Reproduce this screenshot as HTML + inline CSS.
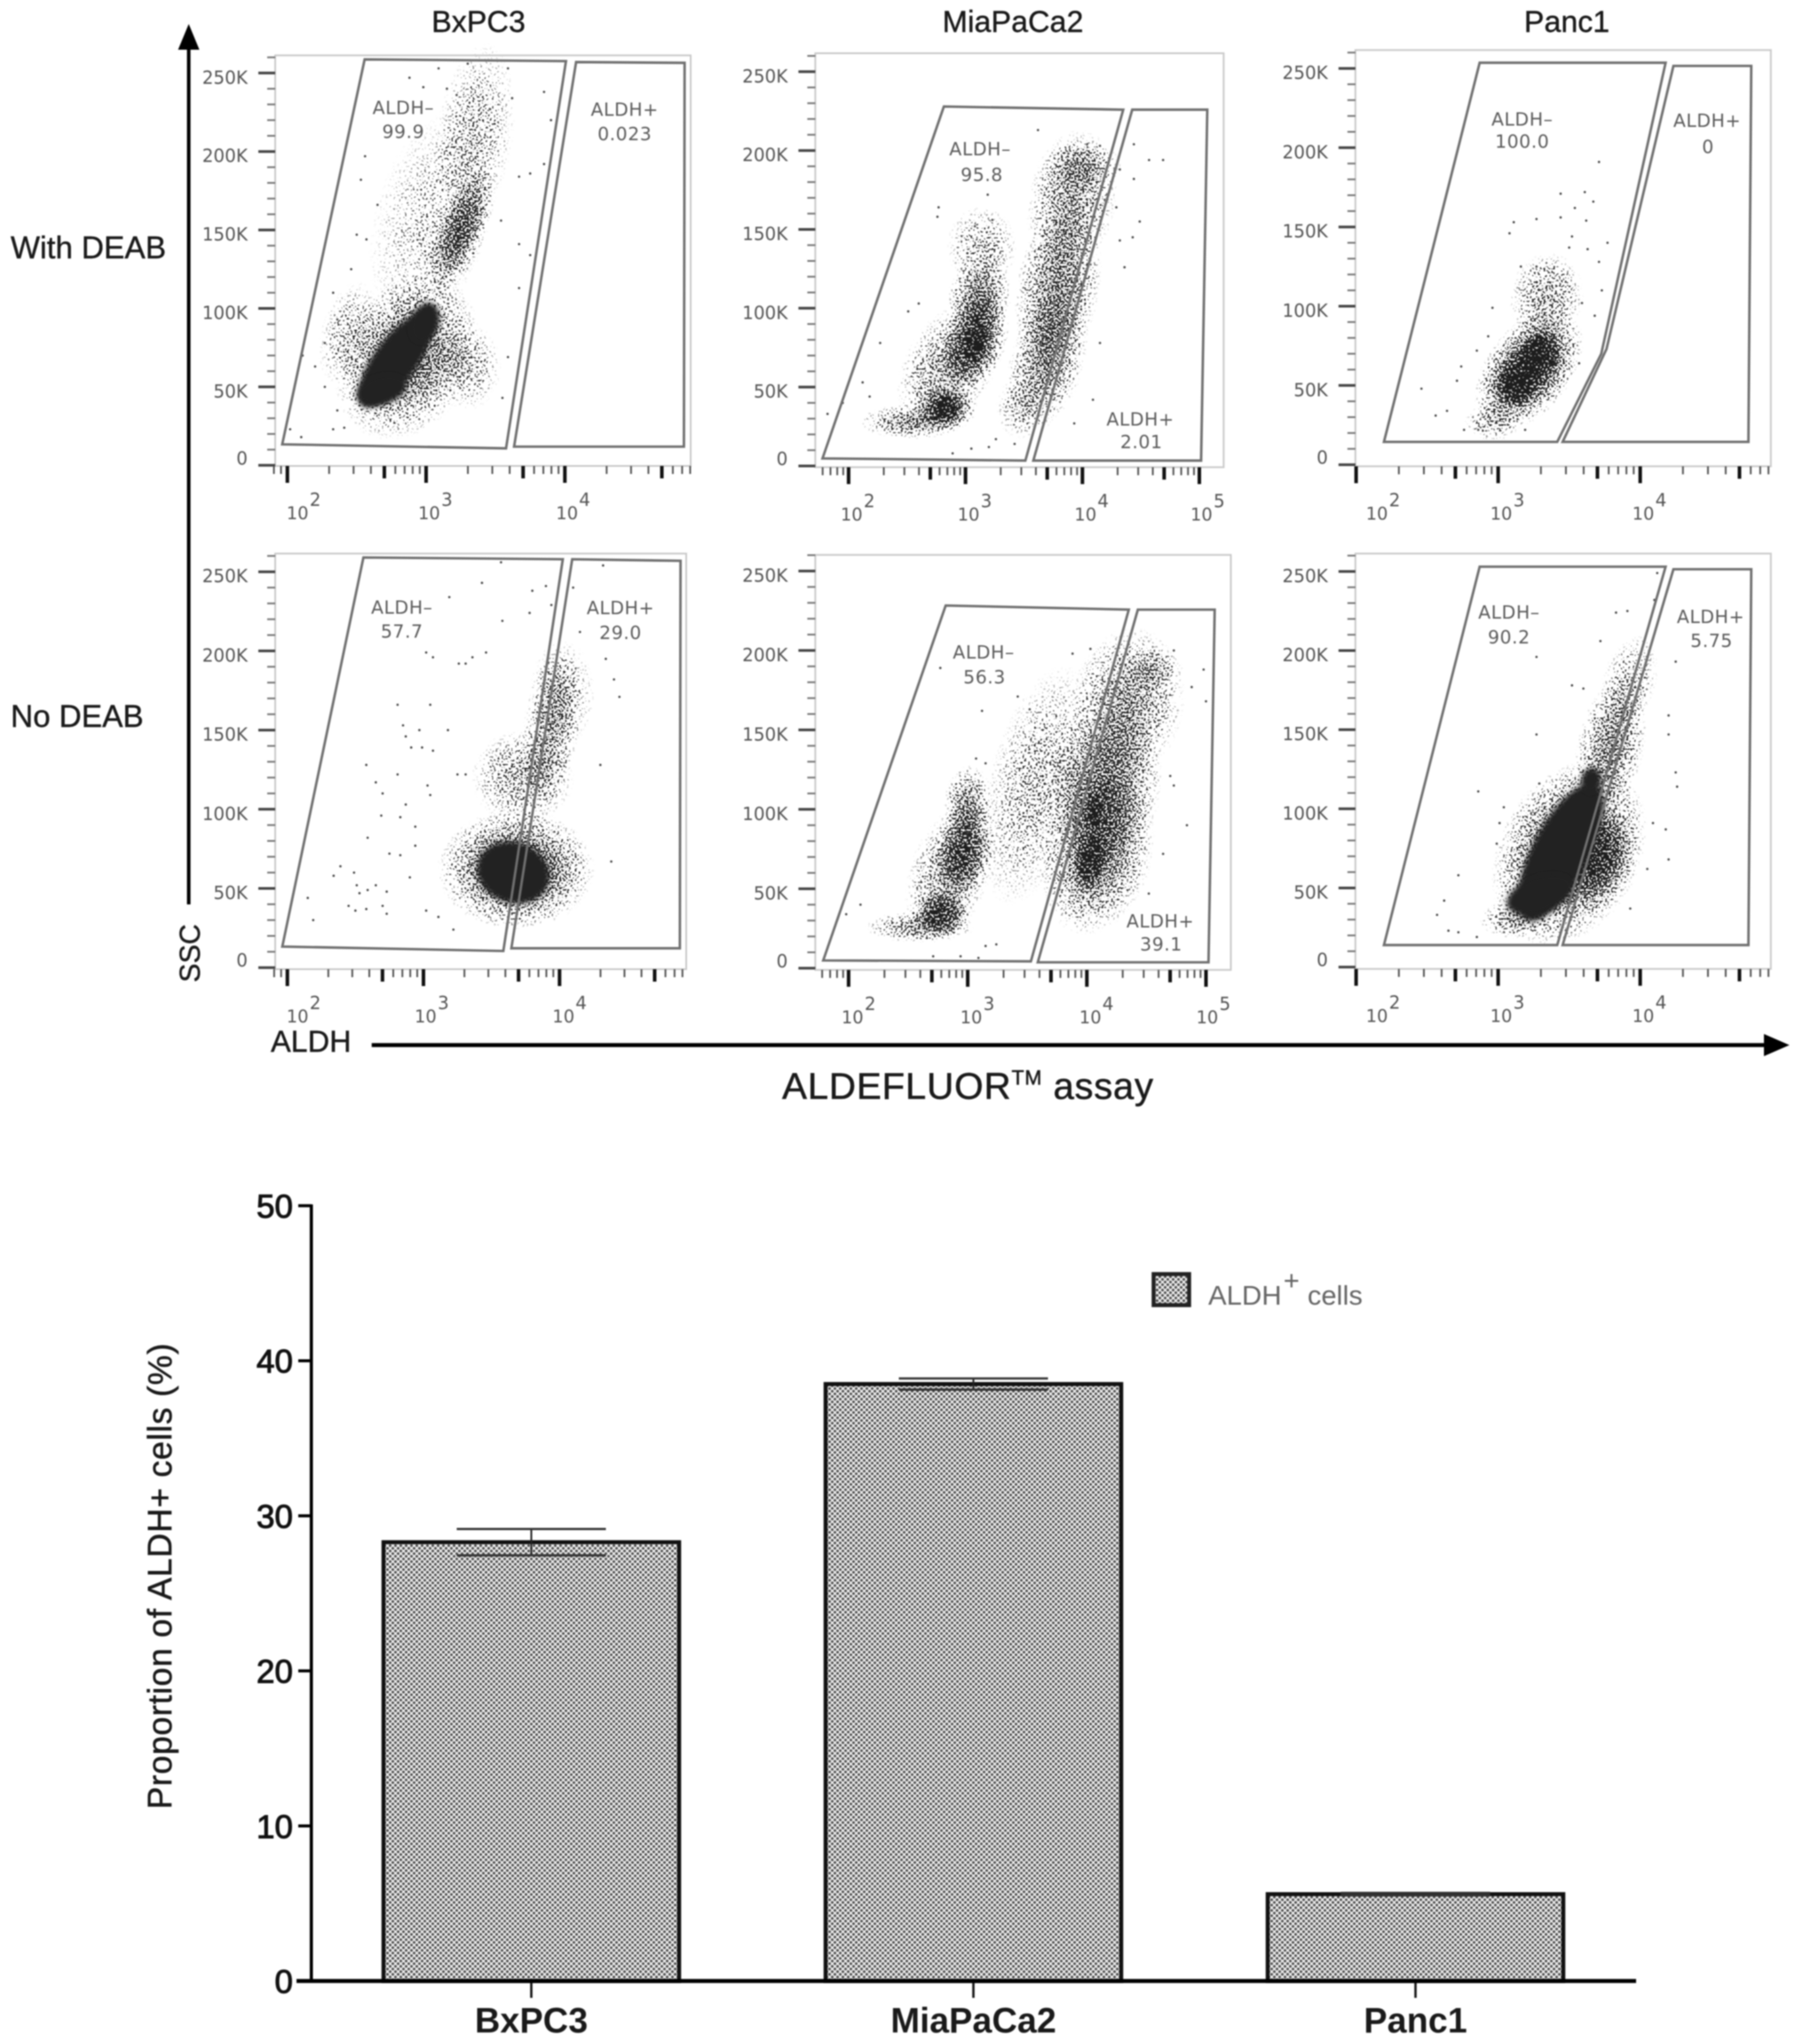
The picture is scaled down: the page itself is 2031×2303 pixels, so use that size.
<!DOCTYPE html>
<html lang="en">
<head>
<meta charset="utf-8">
<title>ALDEFLUOR assay flow cytometry and ALDH+ proportion</title>
<style>
html,body{margin:0;padding:0;background:#fff}
svg{display:block;filter:blur(.7px)}
.sans{font-family:"Liberation Sans",sans-serif}
.facs{font-family:"DejaVu Sans","Liberation Sans",sans-serif}
.gate-label{font-family:"DejaVu Sans","Liberation Sans",sans-serif;font-size:20.5px;fill:#5c5c5c;text-anchor:middle;letter-spacing:.5px}
.panel-title{font-family:"Liberation Sans",sans-serif;font-size:34px;fill:#1a1a1a;text-anchor:middle;stroke:#1a1a1a;stroke-width:.4px}
.row-label{font-family:"Liberation Sans",sans-serif;font-size:35px;fill:#1a1a1a;stroke:#1a1a1a;stroke-width:.4px}
</style>
</head>
<body>
<svg id="figure" xmlns="http://www.w3.org/2000/svg" width="2031" height="2303" viewBox="0 0 2031 2303">
  <defs>
    <pattern id="barHatch" width="6" height="6" patternUnits="userSpaceOnUse">
      <rect width="6" height="6" fill="#ececec"/>
      <circle cx="1.5" cy="1.5" r="1.5" fill="#4a4a4a"/>
      <circle cx="4.5" cy="4.5" r="1.5" fill="#4a4a4a"/>
    </pattern>
    <radialGradient id="cloudFade">
      <stop offset="0" stop-color="#000" stop-opacity=".9"/>
      <stop offset=".45" stop-color="#000" stop-opacity=".62"/>
      <stop offset=".8" stop-color="#000" stop-opacity=".22"/>
      <stop offset="1" stop-color="#000" stop-opacity="0"/>
    </radialGradient>
    <filter id="stipple" filterUnits="userSpaceOnUse" x="0" y="0" width="2031" height="1200" color-interpolation-filters="sRGB">
      <feTurbulence type="fractalNoise" baseFrequency="0.46" numOctaves="1" seed="7" result="noise"/>
      <feColorMatrix in="noise" type="matrix" values="0 0 0 0 0  0 0 0 0 0  0 0 0 0 0  2.6 0 0 0 -0.72" result="grain"/>
      <feComposite in="SourceAlpha" in2="grain" operator="arithmetic" k1="0" k2="1" k3="1" k4="-1" result="mixed"/>
      <feComponentTransfer in="mixed" result="hard"><feFuncA type="linear" slope="6" intercept="0"/></feComponentTransfer>
      <feFlood flood-color="#1d1d1d" result="ink"/>
      <feComposite in="ink" in2="hard" operator="in"/>
    </filter>
    <filter id="coreSoft" x="-25%" y="-25%" width="150%" height="150%"><feGaussianBlur stdDeviation="3"/></filter>
  </defs>

  <text class="panel-title" x="539" y="36">BxPC3</text>
  <text class="panel-title" x="1141" y="36">MiaPaCa2</text>
  <text class="panel-title" x="1765" y="36">Panc1</text>
  <text class="row-label" x="12" y="291">With DEAB</text>
  <text class="row-label" x="12" y="819">No DEAB</text>

  <g>
    <line x1="212.6" y1="50" x2="212.6" y2="1019" stroke="#000" stroke-width="4"/>
    <polygon points="212.6,27 200.6,56 224.6,56" fill="#000"/>
  </g>
  <text class="sans" transform="translate(225,1074) rotate(-90)" font-size="32" fill="#1a1a1a" text-anchor="middle" stroke="#1a1a1a" stroke-width=".4">SSC</text>
  <text class="sans" x="305" y="1185" font-size="34" fill="#1a1a1a" stroke="#1a1a1a" stroke-width=".4">ALDH</text>
  <g>
    <line x1="418.7" y1="1177.5" x2="1990" y2="1177.5" stroke="#000" stroke-width="4.5"/>
    <polygon points="2015.7,1177.5 1987,1165 1987,1190" fill="#000"/>
  </g>
  <text class="sans" x="881" y="1238" font-size="42" fill="#1a1a1a" stroke="#1a1a1a" stroke-width=".5" textLength="418">ALDEFLUOR<tspan font-size="23" dy="-16">TM</tspan><tspan dy="16"> assay</tspan></text>

  <g id="facsPanels"></g>

  <g>
    <text class="gate-label" x="454.3" y="128.7">ALDH–</text>
    <text class="gate-label" x="454.3" y="155.5">99.9</text>
    <text class="gate-label" x="703.7" y="130.6">ALDH+</text>
    <text class="gate-label" x="703.7" y="158.2">0.023</text>
    <text class="gate-label" x="1104" y="175.2">ALDH–</text>
    <text class="gate-label" x="1106" y="203.8">95.8</text>
    <text class="gate-label" x="1284.5" y="479.5">ALDH+</text>
    <text class="gate-label" x="1285.7" y="504.9">2.01</text>
    <text class="gate-label" x="1714.7" y="141.3">ALDH–</text>
    <text class="gate-label" x="1714.7" y="166.3">100.0</text>
    <text class="gate-label" x="1923" y="143">ALDH+</text>
    <text class="gate-label" x="1924" y="172.7">0</text>
    <text class="gate-label" x="452.7" y="691.5">ALDH–</text>
    <text class="gate-label" x="452.7" y="718.7">57.7</text>
    <text class="gate-label" x="699" y="692">ALDH+</text>
    <text class="gate-label" x="699" y="720">29.0</text>
    <text class="gate-label" x="1108" y="742">ALDH–</text>
    <text class="gate-label" x="1109" y="770">56.3</text>
    <text class="gate-label" x="1307" y="1045">ALDH+</text>
    <text class="gate-label" x="1308" y="1071">39.1</text>
    <text class="gate-label" x="1699.8" y="697">ALDH–</text>
    <text class="gate-label" x="1699.8" y="725">90.2</text>
    <text class="gate-label" x="1927" y="702">ALDH+</text>
    <text class="gate-label" x="1928" y="729">5.75</text>
  </g>

  <g id="barChart"></g>
  <text class="sans" transform="translate(193,1776) rotate(-90)" font-size="38" fill="#1a1a1a" stroke="#1a1a1a" stroke-width=".5" text-anchor="middle" textLength="525">Proportion of ALDH+ cells (%)</text>

  <g>
    <rect x="1299.5" y="1435.5" width="40" height="35" fill="url(#barHatch)" stroke="#222" stroke-width="4.5"/>
    <text class="sans" x="1361" y="1470" font-size="31" fill="#666">ALDH<tspan font-size="31" dy="-17" dx="2">+</tspan><tspan dy="17" dx="9">cells</tspan></text>
  </g>
</svg>

<script>
/* ---------- bar chart data ---------- */
const barCategories = ['BxPC3', 'MiaPaCa2', 'Panc1'];
const barMeans = [28.3, 38.5, 5.6];
const barErrors = [0.85, 0.36, 0.08];
const barTickValues = [0, 10, 20, 30, 40, 50];

/* ---------- flow cytometry axis data ---------- */
const sscTickValues = [0, 50, 100, 150, 200, 250];
const sscTickLabels = ['0', '50K', '100K', '150K', '200K', '250K'];
const aldhDecadesShort = [2, 3, 4];
const aldhDecadesLong = [2, 3, 4, 5];

/* ---------- gates: [log10 ALDH, SSC in thousands] ---------- */
const gateNegBxpcDeab = [[2.557,258.7],[4.008,257.6],[3.576,10.8],[1.963,13.4]];
const gatePosBxpcDeab = [[4.081,257],[4.863,256.5],[4.858,11.9],[3.634,11.9]];
const gateNegMiaDeab = [[2.815,227.9],[4.349,225.9],[3.512,3.4],[1.777,4.8]];
const gatePosMiaDeab = [[4.426,225.9],[5.068,225.9],[5.015,3.4],[3.58,3.4]];
const gateNegPancDeab = [[2.87,253.6],[4.179,253.6],[3.726,70],[3.416,14.4],[2.196,14.4]];
const gatePosPancDeab = [[4.234,251.6],[4.782,251.6],[4.762,14.4],[3.454,14.4],[3.763,73]];
const gateNegBxpcNone = [[2.559,259],[4.024,257.9],[3.587,10.5],[1.963,13.3]];
const gatePosBxpcNone = [[4.093,257.9],[4.889,256.9],[4.884,12.2],[3.646,12.2]];
const gateNegMiaNone = [[2.815,228.3],[4.352,225.7],[3.53,4.3],[1.787,4.9]];
const gatePosMiaNone = [[4.428,225.7],[5.073,225.7],[5.021,3.7],[3.588,3.7]];
const gateNegPancNone = [[2.87,253],[4.179,253],[3.416,13.9],[2.196,13.9]];
const gatePosPancNone = [[4.234,251.4],[4.782,251.4],[4.762,13.9],[3.454,13.9]];

/* ---------- density clusters: [log10 ALDH, SSC K, half-width decades, half-height K, tilt deg, density] ---------- */
const cloudsBxpcDeab = [[2.86,69,.48,56,30,.72],[3.3,63,.24,28,0,.33],[2.44,84,.2,34,15,.3],[3.25,149,.18,44,22,.72],[3.35,210,.28,60,8,.32],[3.04,156,.42,72,15,.22]];
const coresBxpcDeab = [[2.78,67,.155,36,36],[2.68,48,.18,9,-15],[2.99,91,.1,13,20]];
const cloudsMiaDeab = [[2.55,28,.46,11,0,.55],[2.83,37,.27,15,0,.8],[3.08,79,.27,32,20,.8],[3.12,107,.27,26,10,.65],[2.86,63,.38,46,30,.48],[3.14,139,.3,26,0,.34],[3.7,67,.32,46,15,.58],[3.79,113,.36,54,10,.6],[3.91,168,.38,46,10,.5],[4.0,190,.34,17,0,.38],[3.48,37,.22,20,0,.3],[3.09,77,.1,15,15,.9],[2.83,36,.13,9,0,.9]];
const coresMiaDeab = [];
const cloudsPancDeab = [[3.215,60,.3,44,38,1],[3.29,70,.15,16,20,.95],[3.14,52,.16,18,30,.95],[3.34,106,.26,28,10,.45],[2.96,27,.2,12,0,.36]];
const coresPancDeab = [];
const cloudsBxpcNone = [[3.68,62,.58,38,0,.85],[3.94,152,.21,50,8,.46],[4.02,173,.24,34,0,.26],[3.73,120,.38,30,0,.42]];
const coresBxpcNone = [[3.66,60,.27,19,20]];
const cloudsMiaNone = [[2.6,26,.46,10,0,.5],[2.78,35,.25,15,0,.85],[2.97,74,.25,32,12,.72],[3.0,104,.2,24,5,.55],[2.85,60,.34,46,20,.45],[4.09,72,.46,52,15,.68],[4.15,115,.48,52,10,.68],[4.34,167,.48,48,10,.52],[3.58,115,.42,78,15,.34],[4.55,188,.26,14,0,.28],[4.06,98,.08,14,0,.9],[4.03,68,.15,22,10,.8]];
const coresMiaNone = [];
const cloudsPancNone = [[3.5,72,.5,62,28,.88],[3.74,68,.22,32,20,.6],[3.79,139,.24,44,12,.58],[3.92,179,.19,32,15,.34],[3.11,30,.24,12,0,.45]];
const coresPancNone = [[3.44,72.5,.2,48,27],[3.29,46,.24,11,-20],[3.655,118,.07,8,10]];

/* ---------- individually read outlying events: [log10 ALDH, SSC K] ---------- */
const eventsBxpcDeab = [[3.09,253],[2.88,247],[3.59,253],[3.85,238],[3.46,227],[3.62,234],[3.9,220],[3.85,192],[3.75,186],[3.67,184],[2.56,197],[2.53,182],[2.65,166],[2.5,147],[2.57,144],[2.46,125],[2.33,110],[2.36,93],[2.27,78],[2.11,70],[2.2,63],[2.27,50],[2.36,35],[2.33,23],[2.41,24],[2.1,18],[2.02,23],[3.54,156],[3.75,134],[3.67,113],[3.67,141],[3.59,69],[3.55,43],[2.98,241],[3.15,240],[3.22,236],[3.3,256]];
const eventsMiaDeab = [[2.77,164],[2.76,158],[2.27,78],[2.51,98],[2.6,103],[1.95,40],[1.82,33],[2.12,53],[2.18,44],[4.69,194],[4.57,194],[4.44,204],[4.36,126],[4.43,145],[4.49,155],[4.15,78],[4.09,42],[3.93,27],[3.05,11],[3.2,12],[3.42,14],[2.89,8],[3.26,17],[3.19,172],[3.23,156],[3.08,152],[4.04,204],[4.15,203],[3.88,198],[3.62,213],[4.32,143],[4.29,164],[4.44,182],[4.32,188]];
const eventsPancDeab = [[3.71,191],[3.44,171],[3.61,172],[3.67,166],[3.54,162],[3.11,153],[3.08,146],[3.27,155],[3.44,156],[3.62,154],[3.77,140],[3.5,137],[3.16,125],[3.27,125],[3.52,144],[3.63,136],[3.71,128],[3.73,110],[3.68,94],[3.59,102],[2.96,99],[2.93,81],[2.85,72],[2.74,62],[2.71,53],[2.46,48],[2.64,34],[2.56,31],[2.76,22],[2.86,22],[3.19,22],[3.57,64]];
const eventsBxpcNone = [[3.19,234],[3.43,243],[3.57,256],[3.9,241],[4.32,254],[3.8,238],[3.78,224],[3.58,219],[3.02,199],[3.07,196],[3.26,192],[3.31,192],[3.36,196],[3.46,199],[4.34,195],[4.4,182],[4.44,171],[2.81,166],[3.05,166],[2.85,153],[2.87,146],[2.97,150],[2.91,139],[2.99,139],[3.07,137],[3.18,150],[2.58,128],[2.81,122],[3.25,122],[3.31,122],[2.65,117],[3.03,115],[2.7,110],[3.05,109],[2.87,103],[2.83,95],[2.69,96],[2.94,89],[2.59,82],[2.94,77],[2.75,72],[2.83,71],[2.34,58],[2.49,60],[2.39,64],[2.9,57],[2.15,44],[2.51,52],[2.53,47],[2.59,49],[2.65,52],[2.73,48],[2.45,39],[2.5,36],[2.58,37],[2.7,39],[2.73,34],[2.19,30],[3.02,36],[3.22,24],[3.11,32],[4.38,67],[4.3,128],[4.15,212],[4.1,240],[3.94,229]];
const eventsMiaNone = [[2.77,189],[3.12,162],[3.42,171],[3.52,163],[3.88,198],[4.03,201],[4.25,198],[4.55,198],[4.73,200],[4.98,188],[4.88,177],[5.0,168],[3.07,132],[3.15,129],[2.1,40],[1.98,34],[3.15,14],[3.24,15],[2.71,7.5],[3.09,6.5],[2.94,7.5],[4.84,90],[4.64,72],[4.52,47],[4.7,121],[4.73,115]];
const eventsPancNone = [[3.27,196],[3.83,224],[3.91,225],[4.1,232],[4.12,249],[3.72,206],[3.52,178],[3.6,176],[4.25,193],[4.2,159],[4.2,147],[3.27,147],[2.86,111],[3.29,116],[4.25,123],[4.26,114],[3.04,101],[3.01,91],[2.99,78],[2.62,42],[2.57,33],[2.65,23],[2.72,22],[2.72,58],[2.85,19],[4.18,87],[4.2,68],[4.05,62],[3.93,37],[4.09,91]];

/* ---------- layout of each panel (pixels), separate from the values above ---------- */
const panelLayouts = [
  {id:'bxpc3-with-deab', left:310, top:62.4, right:778, bottom:525, x100:323.7, decade:156.3, y0:524.3, perK:1.768, shifts:[-1,-9,-10]},
  {id:'miapaca2-with-deab', left:918.4, top:60, right:1378.4, bottom:526.4, x100:955.9, decade:131.7, y0:525, perK:1.777, shifts:[-9,-9,-9,-10]},
  {id:'panc1-with-deab', left:1526.8, top:56.4, right:1994.8, bottom:525.4, x100:1527.6, decade:160, y0:523.6, perK:1.786, shifts:[11,-9,-9]},
  {id:'bxpc3-no-deab', left:310, top:623.7, right:773, bottom:1092, x100:323.7, decade:153.3, y0:1090.2, perK:1.784, shifts:[-1,-10,-8]},
  {id:'miapaca2-no-deab', left:918.4, top:625.2, right:1386.5, bottom:1092.8, x100:955.9, decade:134.2, y0:1090.9, perK:1.79, shifts:[-8,-8.5,-8.5,-11]},
  {id:'panc1-no-deab', left:1526.8, top:623.7, right:1994.8, bottom:1091.7, x100:1527.6, decade:160, y0:1089.6, perK:1.783, shifts:[11,-9,-9]}
];
const panelSeries = [
  {decades:aldhDecadesShort, neg:gateNegBxpcDeab, pos:gatePosBxpcDeab, clouds:cloudsBxpcDeab, cores:coresBxpcDeab, events:eventsBxpcDeab},
  {decades:aldhDecadesLong, neg:gateNegMiaDeab, pos:gatePosMiaDeab, clouds:cloudsMiaDeab, cores:coresMiaDeab, events:eventsMiaDeab},
  {decades:aldhDecadesShort, neg:gateNegPancDeab, pos:gatePosPancDeab, clouds:cloudsPancDeab, cores:coresPancDeab, events:eventsPancDeab},
  {decades:aldhDecadesShort, neg:gateNegBxpcNone, pos:gatePosBxpcNone, clouds:cloudsBxpcNone, cores:coresBxpcNone, events:eventsBxpcNone},
  {decades:aldhDecadesLong, neg:gateNegMiaNone, pos:gatePosMiaNone, clouds:cloudsMiaNone, cores:coresMiaNone, events:eventsMiaNone},
  {decades:aldhDecadesShort, neg:gateNegPancNone, pos:gatePosPancNone, clouds:cloudsPancNone, cores:coresPancNone, events:eventsPancNone}
];

const NS = 'http://www.w3.org/2000/svg';
function add(parent, tag, geometry) {
  const node = document.createElementNS(NS, tag);
  for (const key in geometry) node.setAttribute(key, geometry[key]);
  parent.appendChild(node);
  return node;
}

/* ---------- flow cytometry panels ---------- */
const facsRoot = document.getElementById('facsPanels');

const cloudLayer = add(facsRoot, 'g', {filter:'url(#stipple)'});



panelLayouts.forEach(function (layout, index) {
  const series = panelSeries[index];
  const xScale = function (logValue) { return layout.x100 + (logValue - 2) * layout.decade; };
  const yScale = function (sscK) { return layout.y0 - sscK * layout.perK; };

  series.clouds.forEach(function (c) {
    const cloud = add(cloudLayer, 'ellipse', {
      cx: xScale(c[0]), cy: yScale(c[1]),
      rx: c[2] * layout.decade, ry: c[3] * layout.perK,
      fill: 'url(#cloudFade)', opacity: c[5],
      transform: 'rotate(' + c[4] + ' ' + xScale(c[0]) + ' ' + yScale(c[1]) + ')'
    });
    
    
  });

  const panel = add(facsRoot, 'g', {});
  
  

  const frame = add(panel, 'rect', {
    x: layout.left, y: layout.top, width: layout.right - layout.left, height: layout.bottom - layout.top,
    fill: 'none', stroke: '#cacaca', 'stroke-width': 2
  });
  
  

  series.cores.forEach(function (c) {
    const core = add(panel, 'ellipse', {
      cx: xScale(c[0]), cy: yScale(c[1]),
      rx: c[2] * layout.decade, ry: c[3] * layout.perK,
      fill: '#222', filter: 'url(#coreSoft)',
      transform: 'rotate(' + c[4] + ' ' + xScale(c[0]) + ' ' + yScale(c[1]) + ')'
    });
    
    
  });

  series.events.forEach(function (e) {
    const dot = add(panel, 'circle', {cx: xScale(e[0]), cy: yScale(e[1]), r: 1.3, fill: '#444'});
    
    
  });

  const toPoints = function (vertices) {
    return vertices.map(function (v) { return xScale(v[0]) + ',' + yScale(v[1]); }).join(' ');
  };
  const gateNeg = add(panel, 'polygon', {points: toPoints(series.neg), fill: 'none', stroke: '#707070', 'stroke-width': 2.8});
  
  
  const gatePos = add(panel, 'polygon', {points: toPoints(series.pos), fill: 'none', stroke: '#707070', 'stroke-width': 2.8});
  
  

  for (let k = 0; k <= 260; k += 10) {
    const isMajor = k % 50 === 0;
    const yTick = add(panel, 'line', {
      x1: layout.left - (isMajor ? 19 : 9), x2: layout.left, y1: yScale(k), y2: yScale(k),
      stroke: isMajor ? '#444' : '#777', 'stroke-width': isMajor ? 3 : 2
    });
    
    
  }
  sscTickValues.forEach(function (value, i) {
    const label = add(panel, 'text', {
      x: layout.left - 31, y: yScale(value) + (value === 0 ? -1 : 12),
      'text-anchor': 'end', 'font-size': 20, fill: '#555', class: 'facs'
    });
    label.textContent = sscTickLabels[i];
    
    
  });

  for (let d = 1; d < 6; d++) {
    for (let m = 2; m <= 10; m++) {
      const logValue = d + Math.log10(m);
      const px = xScale(logValue);
      if (px < layout.left - 1.5 || px > layout.right) continue;
      const isDecade = m === 10, isHalf = m === 5;
      const xTick = add(panel, 'line', {
        x1: px, x2: px, y1: layout.bottom, y2: layout.bottom + (isDecade ? 19 : isHalf ? 14 : 9),
        stroke: isDecade || isHalf ? '#111' : '#555', 'stroke-width': isDecade || isHalf ? 4 : 2
      });
      
      
    }
  }
  series.decades.forEach(function (power, i) {
    const labelX = xScale(power) + layout.shifts[i];
    const base = add(panel, 'text', {x: labelX, y: layout.bottom + 60, 'font-size': 19.5, fill: '#555', class: 'facs'});
    base.textContent = '10';
    
    
    const exponent = add(panel, 'text', {x: labelX + 26, y: layout.bottom + 45, 'font-size': 20, fill: '#555', class: 'facs'});
    exponent.textContent = String(power);
    
    
  });
});

/* ---------- bar chart ---------- */
const barRoot = document.getElementById('barChart');
const barZeroY = 2232;
const barPerUnit = 17.47;
const barY = function (value) { return barZeroY - value * barPerUnit; };
const barX = function (i) { return 598.5 + i * 498; };
const barWidth = 333;
const capHalf = 84;

barCategories.forEach(function (name, i) {
  const group = add(barRoot, 'g', {});
  
  

  const bar = add(group, 'rect', {
    x: barX(i) - barWidth / 2, y: barY(barMeans[i]),
    width: barWidth, height: barZeroY - barY(barMeans[i]),
    fill: 'url(#barHatch)', stroke: '#111', 'stroke-width': 4.5
  });
  
  

  const hi = barY(barMeans[i] + barErrors[i]);
  const lo = barY(barMeans[i] - barErrors[i]);
  const stem = add(group, 'line', {x1: barX(i), x2: barX(i), y1: hi, y2: lo, stroke: '#222', 'stroke-width': 2});
  
  
  const capTop = add(group, 'line', {x1: barX(i) - capHalf, x2: barX(i) + capHalf, y1: hi, y2: hi, stroke: '#333', 'stroke-width': 2.6});
  
  
  const capLow = add(group, 'line', {x1: barX(i) - capHalf, x2: barX(i) + capHalf, y1: lo, y2: lo, stroke: '#333', 'stroke-width': 2.6});
  
  

  const xTick = add(group, 'line', {x1: barX(i), x2: barX(i), y1: barZeroY, y2: barZeroY + 19, stroke: '#111', 'stroke-width': 2.6});
  
  

  const xLabel = add(group, 'text', {
    x: barX(i), y: 2290, 'text-anchor': 'middle', 'font-size': 39.5, 'font-weight': 'bold', fill: '#1a1a1a', class: 'sans'
  });
  xLabel.textContent = name;
  
  
});

const yAxisLine = add(barRoot, 'line', {x1: 350.7, x2: 350.7, y1: barY(50) - 1.5, y2: barZeroY, stroke: '#000', 'stroke-width': 3.6});


const xAxisLine = add(barRoot, 'line', {x1: 334, x2: 1843, y1: barZeroY, y2: barZeroY, stroke: '#000', 'stroke-width': 4.5});



barTickValues.forEach(function (value) {
  const tick = add(barRoot, 'line', {x1: 336, x2: 350.7, y1: barY(value), y2: barY(value), stroke: '#000', 'stroke-width': 3.4});
  
  
  const label = add(barRoot, 'text', {
    x: 330, y: barY(value) + 13.5, 'text-anchor': 'end', 'font-size': 37, fill: '#111',
    stroke: '#111', 'stroke-width': 1, class: 'sans'
  });
  label.textContent = String(value);
  
  
});
</script>
</body>
</html>
